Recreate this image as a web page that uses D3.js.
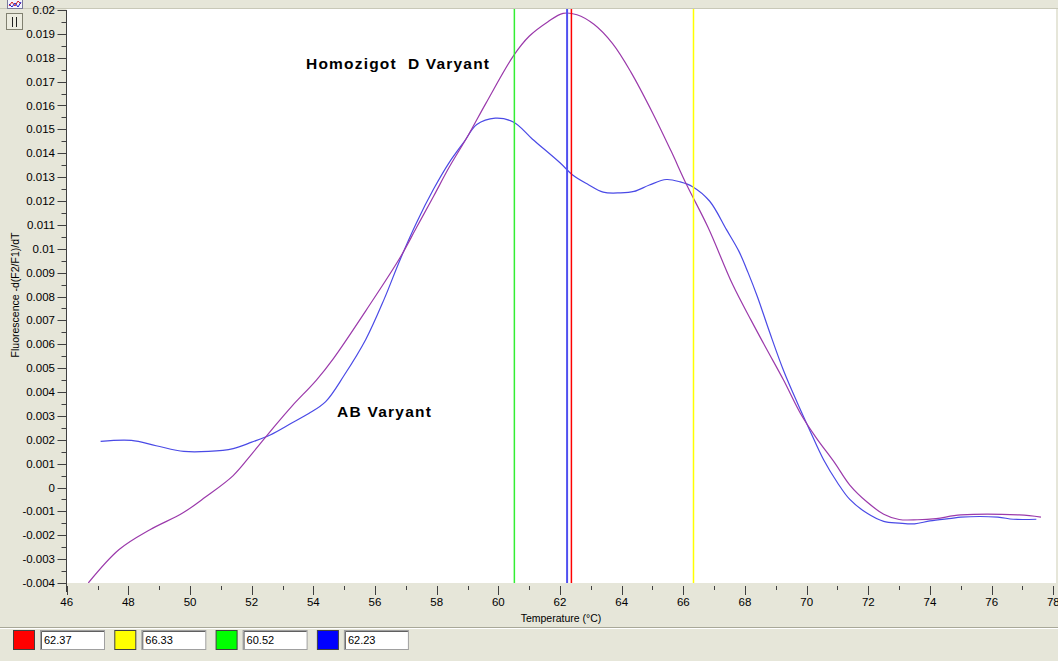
<!DOCTYPE html>
<html>
<head>
<meta charset="utf-8">
<script src="https://cdn.jsdelivr.net/npm/d3@7"></script>
<style>
    body { margin: 0; background: #e6e6d9; }
    svg { display: block; }
    text { font-family: "Liberation Sans", Arial, sans-serif; }
</style>
</head>
<body>
<div id="chart"></div>
<script>

// homozygous D variant curve (purple)
var tempD = [46.7, 47.7, 48.7, 49.76, 50.5, 51.4, 52.0, 52.7, 53.3, 54.1, 54.65, 55.7, 56.8, 57.35, 57.9,
    58.4, 59.0, 59.6, 60.5, 61.0, 61.6, 62.1, 62.55, 63.1, 63.7, 64.3, 65.0, 65.6, 66.1, 66.8, 67.6,
    68.2, 68.7, 69.25, 69.8, 70.3, 70.9, 71.4, 71.95, 72.5, 73.0, 73.6, 74.2, 75.0, 76.9, 77.6];
var valD = [-0.0040, -0.0026, -0.00177, -0.00107, -0.0004, 0.0005, 0.0014, 0.0025, 0.0034, 0.0045, 0.0054,
    0.0074, 0.0096, 0.0109, 0.0122, 0.0134, 0.0147, 0.0161, 0.0181, 0.0189, 0.0195, 0.01986, 0.0198,
    0.0194, 0.0186, 0.0174, 0.0157, 0.0141, 0.0127, 0.0109, 0.0085, 0.0070, 0.0058, 0.0045, 0.0031,
    0.0021, 0.00105, 0.0001, -0.0006, -0.00112, -0.00134, -0.00135, -0.0013, -0.00115, -0.00115, -0.00124];

// AB variant curve (blue)
var tempAB = [47.1, 48.1, 48.9, 49.8, 50.6, 51.4, 52.0, 52.6, 53.3, 53.85, 54.4, 55.0, 55.7, 56.3, 56.8,
    57.35, 57.9, 58.4, 58.9, 59.3, 59.9, 60.5, 61.1, 62.0, 62.4, 62.9, 63.4, 63.95, 64.4, 64.9, 65.45,
    65.9, 66.3, 66.85, 67.4, 67.8, 68.1, 68.4, 68.8, 69.25, 69.7, 70.1, 70.55, 71.0, 71.4, 71.95, 72.5,
    73.0, 73.5, 74.0, 74.7, 75.0, 76.2, 76.7, 77.45];
var valAB = [0.00193, 0.00197, 0.00175, 0.00151, 0.00151, 0.00163, 0.0019, 0.0022, 0.0027, 0.0031, 0.0036,
    0.0047, 0.0062, 0.0079, 0.0095, 0.0111, 0.0125, 0.0136, 0.0145, 0.0152, 0.01547, 0.0153, 0.0146,
    0.0136, 0.0131, 0.0127, 0.01237, 0.01234, 0.0124, 0.01267, 0.0129, 0.0128, 0.0126, 0.0120, 0.0108,
    0.0099, 0.0090, 0.0080, 0.0065, 0.0049, 0.00354, 0.0024, 0.00116, 0.0002, -0.0005, -0.00107,
    -0.00142, -0.00149, -0.00152, -0.0014, -0.00129, -0.00124, -0.00124, -0.00133, -0.00133];

// cursor lines and the boxes at the bottom
var cursorTemps = [62.37, 66.33, 60.52, 62.23];
var cursorLabels = ["62.37", "66.33", "60.52", "62.23"];
var cursorColors = ["#ff0000", "#ffff00", "#00ff00", "#0000ff"];

var xDomain = [46, 78];
var yDomain = [-0.004, 0.02];
var xTicks = d3.range(46, 79, 2);
var yTicks = d3.range(-4, 21).map(function(d) { return d / 1000; });

var width = 1058;
var height = 661;

var plot = { left: 66.5, right: 1056, top: 9, bottom: 583 };

var svg = d3.select("#chart")
    .append("svg")
    .attr("width", width)
    .attr("height", height);

svg.append("rect")
    .attr("width", width)
    .attr("height", height)
    .attr("fill", "#e6e6d9");

var x_scale = d3.scaleLinear()
    .domain(xDomain)
    .range([66.7, 1053.3]);
var y_scale = d3.scaleLinear()
    .domain(yDomain)
    .range([583, 10]);

// plot area
svg.append("line")
    .attr("x1", 0).attr("x2", width)
    .attr("y1", 8.5).attr("y2", 8.5)
    .attr("stroke", "#c8c8b8");
svg.append("rect")
    .attr("x", plot.left)
    .attr("y", plot.top)
    .attr("width", plot.right - plot.left)
    .attr("height", plot.bottom - plot.top)
    .attr("fill", "#ffffff");

// y axis
var yAxis = svg.append("g").attr("class", "y axis");
yAxis.append("line")
    .attr("x1", 66.5).attr("x2", 66.5)
    .attr("y1", y_scale(0.02)).attr("y2", 592)
    .attr("stroke", "#404040");
yAxis.selectAll(".ytick")
    .data(yTicks)
    .enter()
    .append("line")
    .attr("x1", 57.5).attr("x2", 66.5)
    .attr("y1", function(d) { return Math.round(y_scale(d)) + 0.5; })
    .attr("y2", function(d) { return Math.round(y_scale(d)) + 0.5; })
    .attr("stroke", "#404040");
yAxis.selectAll(".yminor")
    .data(yTicks.slice(0, -1))
    .enter()
    .append("line")
    .attr("x1", 61.5).attr("x2", 66.5)
    .attr("y1", function(d) { return Math.round(y_scale(d + 0.0005)) + 0.5; })
    .attr("y2", function(d) { return Math.round(y_scale(d + 0.0005)) + 0.5; })
    .attr("stroke", "#404040");
yAxis.selectAll(".ylabel")
    .data(yTicks)
    .enter()
    .append("text")
    .attr("x", 55)
    .attr("y", function(d) { return y_scale(d) + 4; })
    .attr("text-anchor", "end")
    .attr("font-size", "11.5px")
    .attr("fill", "#000")
    .text(function(d) { return String(+d.toFixed(3)); });

svg.append("text")
    .attr("transform", "translate(19,295)rotate(-90)")
    .attr("text-anchor", "middle")
    .attr("font-size", "10.5px")
    .text("Fluorescence -d(F2/F1)/dT");

// x axis
var xAxis = svg.append("g").attr("class", "x axis");
xAxis.selectAll(".xtick")
    .data(xTicks)
    .enter()
    .append("line")
    .attr("x1", function(d) { return Math.round(x_scale(d)) + 0.5; })
    .attr("x2", function(d) { return Math.round(x_scale(d)) + 0.5; })
    .attr("y1", 586).attr("y2", 595)
    .attr("stroke", "#404040");
xAxis.selectAll(".xminor")
    .data(xTicks.slice(0, -1))
    .enter()
    .append("line")
    .attr("x1", function(d) { return Math.round(x_scale(d + 1)) + 0.5; })
    .attr("x2", function(d) { return Math.round(x_scale(d + 1)) + 0.5; })
    .attr("y1", 586).attr("y2", 590)
    .attr("stroke", "#404040");
xAxis.selectAll(".xlabel")
    .data(xTicks)
    .enter()
    .append("text")
    .attr("x", function(d) { return x_scale(d); })
    .attr("y", 606)
    .attr("text-anchor", "middle")
    .attr("font-size", "11.5px")
    .text(function(d) { return d; });

svg.append("text")
    .attr("x", 561)
    .attr("y", 622)
    .attr("text-anchor", "middle")
    .attr("font-size", "10.5px")
    .text("Temperature (\u00b0C)");

// curves
var valueline = d3.line()
    .x(function(d) { return x_scale(d[0]); })
    .y(function(d) { return y_scale(d[1]); })
    .curve(d3.curveCatmullRom.alpha(0.5));

svg.append("defs").append("clipPath")
    .attr("id", "plotclip")
    .append("rect")
    .attr("x", plot.left)
    .attr("y", plot.top)
    .attr("width", plot.right - plot.left)
    .attr("height", plot.bottom - plot.top);

var curves = svg.append("g").attr("clip-path", "url(#plotclip)");

curves.append("path")
    .datum(d3.zip(tempAB, valAB))
    .attr("fill", "none")
    .attr("stroke", "#4a4ae6")
    .attr("stroke-width", 1.2)
    .attr("d", valueline);

curves.append("path")
    .datum(d3.zip(tempD, valD))
    .attr("fill", "none")
    .attr("stroke", "#9b3aab")
    .attr("stroke-width", 1.2)
    .attr("d", valueline);

// cursors, blue drawn last so it sits on top
var cursorOrder = [2, 1, 0, 3];
curves.selectAll(".cursor")
    .data(cursorOrder)
    .enter()
    .append("line")
    .attr("class", "cursor")
    .attr("x1", function(i) { return x_scale(cursorTemps[i]); })
    .attr("x2", function(i) { return x_scale(cursorTemps[i]); })
    .attr("y1", plot.top)
    .attr("y2", plot.bottom)
    .attr("stroke", function(i) { return i == 3 ? "#5050f0" : i == 2 ? "#33ee33" : cursorColors[i]; })
    .attr("stroke-width", function(i) { return i == 3 ? 2 : 1.5; });

// annotations
svg.append("text")
    .attr("x", 306)
    .attr("y", 69)
    .attr("font-size", "15.5px")
    .attr("font-weight", "bold")
    .style("white-space", "pre")
    .attr("textLength", 183)
    .attr("lengthAdjust", "spacing")
    .text("Homozigot  D Varyant");

svg.append("text")
    .attr("x", 337)
    .attr("y", 417)
    .attr("font-size", "15.5px")
    .attr("font-weight", "bold")
    .attr("textLength", 94)
    .attr("lengthAdjust", "spacing")
    .text("AB Varyant");

// little toolbar icons at the top left
var icon = svg.append("g");
icon.append("rect")
    .attr("x", 7.5).attr("y", -1.5).attr("width", 15).attr("height", 10)
    .attr("fill", "#f4f4ff").attr("stroke", "#7a7a9a");
icon.append("path")
    .attr("d", "M9,6 L12,2 L15,6 L18,1 L21,4")
    .attr("fill", "none").attr("stroke", "#d02020");
icon.append("path")
    .attr("d", "M9,4 L12,7 L15,3 L18,7 L21,2")
    .attr("fill", "none").attr("stroke", "#2020d0");
icon.append("rect")
    .attr("x", 6.5).attr("y", 13.5).attr("width", 16).attr("height", 16)
    .attr("fill", "#ecece0").attr("stroke", "#808070");
icon.append("line")
    .attr("x1", 12.5).attr("x2", 12.5).attr("y1", 17).attr("y2", 27)
    .attr("stroke", "#202020");
icon.append("line")
    .attr("x1", 16.5).attr("x2", 16.5).attr("y1", 17).attr("y2", 27)
    .attr("stroke", "#202020");

// bottom panel
svg.append("line")
    .attr("x1", 0).attr("x2", width)
    .attr("y1", 627.5).attr("y2", 627.5)
    .attr("stroke", "#a8a898");
svg.append("line")
    .attr("x1", 0).attr("x2", width)
    .attr("y1", 628.5).attr("y2", 628.5)
    .attr("stroke", "#ffffff");

var legend = svg.selectAll(".cursorbox")
    .data(cursorLabels)
    .enter()
    .append("g")
    .attr("class", "cursorbox")
    .attr("transform", function(d, i) { return "translate(" + (13 + i * 101.3) + ",630)"; });

legend.append("rect")
    .attr("x", 0.5).attr("y", 0.5)
    .attr("width", 21).attr("height", 19)
    .attr("fill", function(d, i) { return cursorColors[i]; })
    .attr("stroke", "#404040");

legend.append("rect")
    .attr("x", 27.5).attr("y", 0.5)
    .attr("width", 64).attr("height", 19)
    .attr("fill", "#ffffff")
    .attr("stroke", "#a0a0a0");
legend.append("path")
    .attr("d", "M28.5,19 L28.5,1.5 L91,1.5")
    .attr("fill", "none")
    .attr("stroke", "#606060");

legend.append("text")
    .attr("x", 31)
    .attr("y", 14)
    .attr("font-size", "11px")
    .text(function(d) { return d; });

</script>
</body>
</html>
